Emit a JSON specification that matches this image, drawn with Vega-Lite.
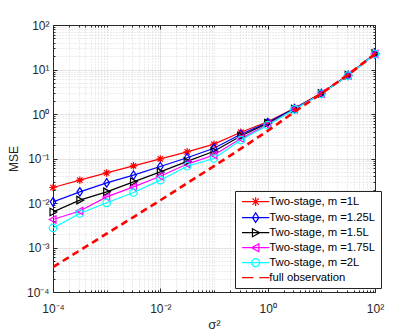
{
  "$schema": "https://vega.github.io/schema/vega-lite/v6.json",
  "autosize": {"type": "none"},
  "padding": {"left": 53, "top": 25, "right": 40, "bottom": 44},
  "width": 322,
  "height": 267,
  "background": "white",
  "config": {
    "font": "Liberation Sans",
    "view": {"stroke": null},
    "axis": {"labelFont": "Liberation Sans", "titleFont": "Liberation Sans", "labelColor": "#262626", "titleColor": "#262626", "domainColor": "#262626", "tickColor": "#262626", "labelFontSize": 12, "titleFontWeight": "normal", "labelFlush": false},
    "legend": {"labelFont": "Liberation Sans"}
  },
  "data": {"values": [
    {"x": 0.0001, "y": 0.0223, "s": "Two-stage, m =1L"},
    {"x": 0.00031623, "y": 0.0326, "s": "Two-stage, m =1L"},
    {"x": 0.001, "y": 0.0475, "s": "Two-stage, m =1L"},
    {"x": 0.0031623, "y": 0.0684, "s": "Two-stage, m =1L"},
    {"x": 0.01, "y": 0.098, "s": "Two-stage, m =1L"},
    {"x": 0.031623, "y": 0.141, "s": "Two-stage, m =1L"},
    {"x": 0.1, "y": 0.21, "s": "Two-stage, m =1L"},
    {"x": 0.31623, "y": 0.39, "s": "Two-stage, m =1L"},
    {"x": 1, "y": 0.67, "s": "Two-stage, m =1L"},
    {"x": 3.1623, "y": 1.35, "s": "Two-stage, m =1L"},
    {"x": 10, "y": 2.95, "s": "Two-stage, m =1L"},
    {"x": 31.623, "y": 7.5, "s": "Two-stage, m =1L"},
    {"x": 100, "y": 22.5, "s": "Two-stage, m =1L"},
    {"x": 0.0001, "y": 0.0106, "s": "Two-stage, m =1.25L"},
    {"x": 0.00031623, "y": 0.0178, "s": "Two-stage, m =1.25L"},
    {"x": 0.001, "y": 0.0283, "s": "Two-stage, m =1.25L"},
    {"x": 0.0031623, "y": 0.0422, "s": "Two-stage, m =1.25L"},
    {"x": 0.01, "y": 0.066, "s": "Two-stage, m =1.25L"},
    {"x": 0.031623, "y": 0.104, "s": "Two-stage, m =1.25L"},
    {"x": 0.1, "y": 0.17, "s": "Two-stage, m =1.25L"},
    {"x": 0.31623, "y": 0.35, "s": "Two-stage, m =1.25L"},
    {"x": 1, "y": 0.64, "s": "Two-stage, m =1.25L"},
    {"x": 3.1623, "y": 1.32, "s": "Two-stage, m =1.25L"},
    {"x": 10, "y": 2.9, "s": "Two-stage, m =1.25L"},
    {"x": 31.623, "y": 7.4, "s": "Two-stage, m =1.25L"},
    {"x": 100, "y": 22.3, "s": "Two-stage, m =1.25L"},
    {"x": 0.0001, "y": 0.0063, "s": "Two-stage, m =1.5L"},
    {"x": 0.00031623, "y": 0.0116, "s": "Two-stage, m =1.5L"},
    {"x": 0.001, "y": 0.0178, "s": "Two-stage, m =1.5L"},
    {"x": 0.0031623, "y": 0.0299, "s": "Two-stage, m =1.5L"},
    {"x": 0.01, "y": 0.05, "s": "Two-stage, m =1.5L"},
    {"x": 0.031623, "y": 0.086, "s": "Two-stage, m =1.5L"},
    {"x": 0.1, "y": 0.145, "s": "Two-stage, m =1.5L"},
    {"x": 0.31623, "y": 0.32, "s": "Two-stage, m =1.5L"},
    {"x": 1, "y": 0.62, "s": "Two-stage, m =1.5L"},
    {"x": 3.1623, "y": 1.3, "s": "Two-stage, m =1.5L"},
    {"x": 10, "y": 2.9, "s": "Two-stage, m =1.5L"},
    {"x": 31.623, "y": 7.4, "s": "Two-stage, m =1.5L"},
    {"x": 100, "y": 22.8, "s": "Two-stage, m =1.5L"},
    {"x": 0.0001, "y": 0.00425, "s": "Two-stage, m =1.75L"},
    {"x": 0.00031623, "y": 0.0066, "s": "Two-stage, m =1.75L"},
    {"x": 0.001, "y": 0.0137, "s": "Two-stage, m =1.75L"},
    {"x": 0.0031623, "y": 0.023, "s": "Two-stage, m =1.75L"},
    {"x": 0.01, "y": 0.04, "s": "Two-stage, m =1.75L"},
    {"x": 0.031623, "y": 0.075, "s": "Two-stage, m =1.75L"},
    {"x": 0.1, "y": 0.12, "s": "Two-stage, m =1.75L"},
    {"x": 0.31623, "y": 0.28, "s": "Two-stage, m =1.75L"},
    {"x": 1, "y": 0.58, "s": "Two-stage, m =1.75L"},
    {"x": 3.1623, "y": 1.28, "s": "Two-stage, m =1.75L"},
    {"x": 10, "y": 2.85, "s": "Two-stage, m =1.75L"},
    {"x": 31.623, "y": 7.3, "s": "Two-stage, m =1.75L"},
    {"x": 100, "y": 22.3, "s": "Two-stage, m =1.75L"},
    {"x": 0.0001, "y": 0.00275, "s": "Two-stage, m =2L"},
    {"x": 0.00031623, "y": 0.0058, "s": "Two-stage, m =2L"},
    {"x": 0.001, "y": 0.0101, "s": "Two-stage, m =2L"},
    {"x": 0.0031623, "y": 0.0172, "s": "Two-stage, m =2L"},
    {"x": 0.01, "y": 0.0326, "s": "Two-stage, m =2L"},
    {"x": 0.031623, "y": 0.067, "s": "Two-stage, m =2L"},
    {"x": 0.1, "y": 0.1, "s": "Two-stage, m =2L"},
    {"x": 0.31623, "y": 0.26, "s": "Two-stage, m =2L"},
    {"x": 1, "y": 0.56, "s": "Two-stage, m =2L"},
    {"x": 3.1623, "y": 1.27, "s": "Two-stage, m =2L"},
    {"x": 10, "y": 2.85, "s": "Two-stage, m =2L"},
    {"x": 31.623, "y": 7.3, "s": "Two-stage, m =2L"},
    {"x": 100, "y": 22.3, "s": "Two-stage, m =2L"},
    {"x": 0.0001, "y": 0.000363, "s": "full observation"},
    {"x": 0.00031623, "y": 0.00086, "s": "full observation"},
    {"x": 0.001, "y": 0.00204, "s": "full observation"},
    {"x": 0.0031623, "y": 0.00484, "s": "full observation"},
    {"x": 0.01, "y": 0.0115, "s": "full observation"},
    {"x": 0.031623, "y": 0.0279, "s": "full observation"},
    {"x": 0.1, "y": 0.0676, "s": "full observation"},
    {"x": 0.31623, "y": 0.166, "s": "full observation"},
    {"x": 1, "y": 0.417, "s": "full observation"},
    {"x": 3.1623, "y": 1.12, "s": "full observation"},
    {"x": 10, "y": 2.88, "s": "full observation"},
    {"x": 31.623, "y": 7.7, "s": "full observation"},
    {"x": 100, "y": 22.3, "s": "full observation"}
  ]},
  "resolve": {
    "scale": {"color": "independent", "shape": "independent", "strokeWidth": "independent"},
    "axis": {"x": "independent", "y": "independent"}
  },
  "layer": [
    {
      "transform": [{"filter": "datum.s != 'full observation'"}],
      "mark": {"type": "line", "clip": true, "strokeWidth": 1.2},
      "encoding": {
        "x": {"field": "x", "type": "quantitative",
          "scale": {"type": "log", "domain": [0.0001, 100], "nice": false},
          "axis": {"orient": "bottom", "values": [0.0001, 0.01, 1, 100], "grid": true, "gridColor": "#dcdcdc", "gridWidth": 0.8,
            "tickSize": -4, "labelPadding": 15, "domainWidth": 1,
            "labelExpr": "'10' + replace(replace(replace(replace(replace(replace(''+round(log(datum.value)/LN10),'-','⁻'),'0','⁰'),'1','¹'),'2','²'),'3','³'),'4','⁴')",
            "title": "σ²", "titleFontSize": 13, "titlePadding": 4}},
        "y": {"field": "y", "type": "quantitative",
          "scale": {"type": "log", "domain": [0.0001, 100], "nice": false},
          "axis": {"orient": "left", "values": [0.0001, 0.001, 0.01, 0.1, 1, 10, 100], "grid": true, "gridColor": "#dcdcdc", "gridWidth": 0.8,
            "tickSize": -4, "labelPadding": 8, "domainWidth": 1,
            "labelExpr": "'10' + replace(replace(replace(replace(replace(replace(''+round(log(datum.value)/LN10),'-','⁻'),'0','⁰'),'1','¹'),'2','²'),'3','³'),'4','⁴')",
            "title": "MSE", "titleFontSize": 12, "titlePadding": 6}},
        "color": {"field": "s", "type": "nominal", "legend": null,
          "scale": {"domain": ["Two-stage, m =1L", "Two-stage, m =1.25L", "Two-stage, m =1.5L", "Two-stage, m =1.75L", "Two-stage, m =2L"],
            "range": ["#ff0000", "#0000ff", "#000000", "#ff00ff", "#00ffff"]}}
      }
    },
    {
      "transform": [{"filter": "datum.s != 'full observation'"}],
      "mark": {"type": "point", "filled": false, "opacity": 1, "strokeWidth": 1.2, "size": 56},
      "encoding": {
        "x": {"field": "x", "type": "quantitative",
          "axis": {"orient": "bottom", "values": [0.0002,0.0003,0.0004,0.0005,0.0006,0.0007,0.0008,0.0009,0.001,0.002,0.003,0.004,0.005,0.006,0.007,0.008,0.009,0.02,0.03,0.04,0.05,0.06,0.07,0.08,0.09,0.1,0.2,0.3,0.4,0.5,0.6,0.7,0.8,0.9,2,3,4,5,6,7,8,9,10,20,30,40,50,60,70,80,90],
            "grid": true, "gridColor": "#c8c8c8", "gridDash": [1, 2], "gridWidth": 0.7, "labels": false, "domain": false, "tickSize": -2, "title": null}},
        "y": {"field": "y", "type": "quantitative",
          "axis": {"orient": "left", "values": [0.0002,0.0003,0.0004,0.0005,0.0006,0.0007,0.0008,0.0009,0.002,0.003,0.004,0.005,0.006,0.007,0.008,0.009,0.02,0.03,0.04,0.05,0.06,0.07,0.08,0.09,0.2,0.3,0.4,0.5,0.6,0.7,0.8,0.9,2,3,4,5,6,7,8,9,20,30,40,50,60,70,80,90],
            "grid": true, "gridColor": "#c8c8c8", "gridDash": [1, 2], "gridWidth": 0.7, "labels": false, "domain": false, "tickSize": -2, "title": null}},
        "color": {"field": "s", "type": "nominal", "legend": null,
          "scale": {"domain": ["Two-stage, m =1L", "Two-stage, m =1.25L", "Two-stage, m =1.5L", "Two-stage, m =1.75L", "Two-stage, m =2L"],
            "range": ["#ff0000", "#0000ff", "#000000", "#ff00ff", "#00ffff"]}},
        "shape": {"field": "s", "type": "nominal", "legend": null,
          "scale": {"domain": ["Two-stage, m =1L", "Two-stage, m =1.25L", "Two-stage, m =1.5L", "Two-stage, m =1.75L", "Two-stage, m =2L"],
            "range": ["M-1,0L1,0M0,-1L0,1M-0.72,-0.72L0.72,0.72M-0.72,0.72L0.72,-0.72", "M0,-1.15L0.75,0L0,1.15L-0.75,0Z", "M-0.8,-1L1,0L-0.8,1Z", "M0.8,-1L-1,0L0.8,1Z", "circle"]}}
      }
    },
    {
      "transform": [{"filter": "datum.s == 'full observation'"}],
      "mark": {"type": "line", "clip": true, "color": "#ff0000", "strokeWidth": 2.6, "strokeDash": [7, 4.5]},
      "encoding": {
        "x": {"field": "x", "type": "quantitative",
          "axis": {"orient": "top", "values": [0.0001, 0.01, 1, 100], "grid": false, "labels": false, "tickSize": -4, "title": null, "domainWidth": 1}},
        "y": {"field": "y", "type": "quantitative",
          "axis": {"orient": "right", "values": [0.0001, 0.001, 0.01, 0.1, 1, 10, 100], "grid": false, "labels": false, "tickSize": -4, "title": null, "domainWidth": 1}}
      }
    },
    {
      "transform": [{"filter": "false"}],
      "mark": {"type": "point", "filled": false, "opacity": 1},
      "encoding": {
        "x": {"field": "x", "type": "quantitative",
          "axis": {"orient": "top", "values": [0.0002,0.0003,0.0004,0.0005,0.0006,0.0007,0.0008,0.0009,0.001,0.002,0.003,0.004,0.005,0.006,0.007,0.008,0.009,0.02,0.03,0.04,0.05,0.06,0.07,0.08,0.09,0.1,0.2,0.3,0.4,0.5,0.6,0.7,0.8,0.9,2,3,4,5,6,7,8,9,10,20,30,40,50,60,70,80,90],
            "grid": false, "labels": false, "domain": false, "tickSize": -2, "title": null}},
        "y": {"field": "y", "type": "quantitative",
          "axis": {"orient": "right", "values": [0.0002,0.0003,0.0004,0.0005,0.0006,0.0007,0.0008,0.0009,0.002,0.003,0.004,0.005,0.006,0.007,0.008,0.009,0.02,0.03,0.04,0.05,0.06,0.07,0.08,0.09,0.2,0.3,0.4,0.5,0.6,0.7,0.8,0.9,2,3,4,5,6,7,8,9,20,30,40,50,60,70,80,90],
            "grid": false, "labels": false, "domain": false, "tickSize": -2, "title": null}},
        "color": {"field": "s", "type": "nominal",
          "scale": {"domain": ["Two-stage, m =1L", "Two-stage, m =1.25L", "Two-stage, m =1.5L", "Two-stage, m =1.75L", "Two-stage, m =2L", "full observation"],
            "range": ["#ff0000", "#0000ff", "#000000", "#ff00ff", "#00ffff", "#ff0000"]},
          "legend": {"title": null, "orient": "none", "legendX": 182, "legendY": 166, "padding": 5,
            "strokeColor": "#262626", "fillColor": "white", "labelFontSize": 11.3, "labelColor": "#000000",
            "symbolSize": 64, "symbolOffset": 10, "labelOffset": 8, "rowPadding": 1}},
        "shape": {"field": "s", "type": "nominal",
          "scale": {"domain": ["Two-stage, m =1L", "Two-stage, m =1.25L", "Two-stage, m =1.5L", "Two-stage, m =1.75L", "Two-stage, m =2L", "full observation"],
            "range": ["M-3.4,0L3.4,0M0,-1.1L0,1.1M-0.8,-0.8L0.8,0.8M-0.8,0.8L0.8,-0.8", "M-3.4,0L3.4,0M0,-1.2L0.8,0L0,1.2L-0.8,0Z", "M-3.4,0L3.4,0M-0.8,-1L1,0L-0.8,1Z", "M-3.4,0L3.4,0M0.8,-1L-1,0L0.8,1Z", "M-3.4,0L3.4,0M1,0A1,1,0,1,1,-1,0A1,1,0,1,1,1,0Z", "M-3.4,0L-0.6,0M0.9,0L3.4,0"]},
          "legend": {"title": null, "orient": "none", "legendX": 182, "legendY": 166, "padding": 5,
            "strokeColor": "#262626", "fillColor": "white", "labelFontSize": 11.3, "labelColor": "#000000",
            "symbolSize": 64, "symbolOffset": 10, "labelOffset": 8, "rowPadding": 1}},
        "strokeWidth": {"field": "s", "type": "ordinal",
          "scale": {"domain": ["Two-stage, m =1L", "Two-stage, m =1.25L", "Two-stage, m =1.5L", "Two-stage, m =1.75L", "Two-stage, m =2L", "full observation"],
            "range": [1.2, 1.2, 1.2, 1.2, 1.2, 2.4]},
          "legend": {"title": null, "orient": "none", "legendX": 182, "legendY": 166, "padding": 5,
            "strokeColor": "#262626", "fillColor": "white", "labelFontSize": 11.3, "labelColor": "#000000",
            "symbolSize": 64, "symbolOffset": 10, "labelOffset": 8, "rowPadding": 1}}
      }
    }
  ]
}
